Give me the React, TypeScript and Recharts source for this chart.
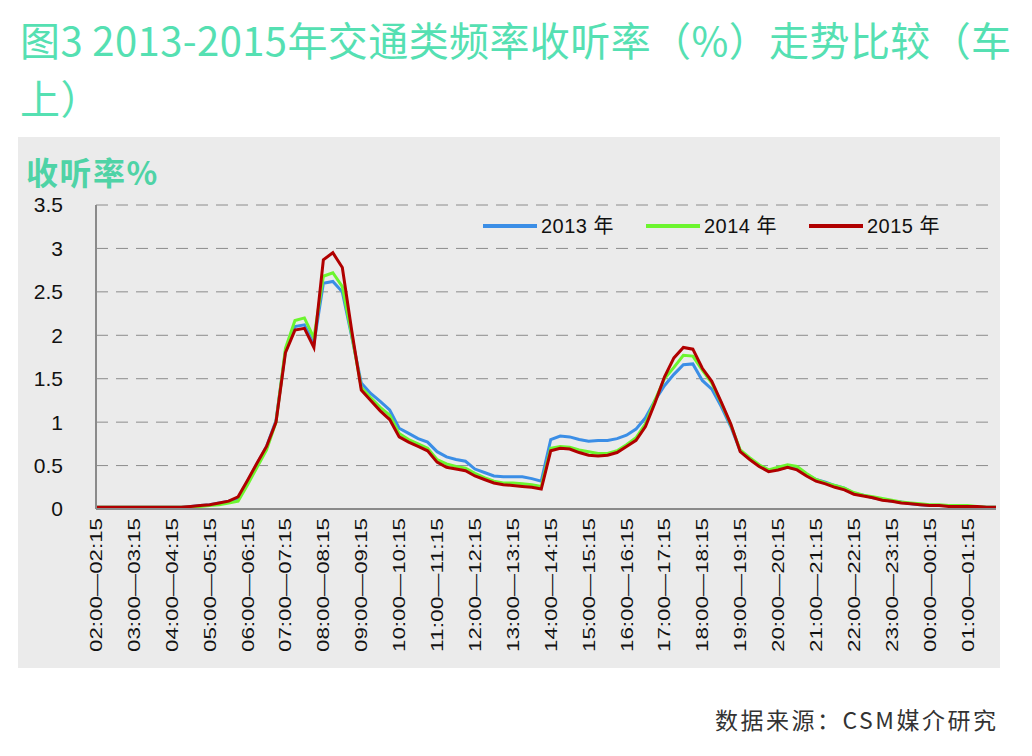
import React from 'react';
import { LineChart, Line, XAxis, YAxis, CartesianGrid } from 'recharts';

// 15-minute listening rates (%), slots start at 02:00 and run through 01:45
const rate2013 = [
  0.02, 0.02, 0.02, 0.02, 0.02, 0.02, 0.02, 0.02,
  0.02, 0.02, 0.03, 0.04, 0.05, 0.07, 0.09, 0.12,
  0.32, 0.52, 0.72, 1.02, 1.82, 2.1, 2.12, 1.9,
  2.6, 2.62, 2.5, 1.98, 1.45, 1.33, 1.24, 1.14,
  0.93, 0.87, 0.81, 0.77, 0.66, 0.6, 0.57, 0.55,
  0.46, 0.42, 0.38, 0.37, 0.37, 0.37, 0.35, 0.32,
  0.8, 0.84, 0.83, 0.8, 0.78, 0.79, 0.79, 0.81,
  0.85, 0.92, 1.05, 1.25, 1.42, 1.55, 1.66, 1.67,
  1.48, 1.38, 1.18, 0.95, 0.67, 0.58, 0.5, 0.44,
  0.46, 0.48, 0.46, 0.4, 0.34, 0.31, 0.27, 0.24,
  0.18, 0.16, 0.13, 0.11, 0.09, 0.08, 0.06, 0.05,
  0.04, 0.04, 0.04, 0.04, 0.03, 0.03, 0.02, 0.02,
];

const rate2014 = [
  0.02, 0.02, 0.02, 0.02, 0.02, 0.02, 0.02, 0.02,
  0.02, 0.02, 0.02, 0.03, 0.04, 0.05, 0.07, 0.09,
  0.28, 0.48, 0.68, 1.0, 1.85, 2.17, 2.2, 1.97,
  2.68, 2.72, 2.56, 2.0, 1.4, 1.28, 1.17, 1.08,
  0.87, 0.8, 0.75, 0.7, 0.57, 0.52, 0.49, 0.47,
  0.41, 0.36, 0.32, 0.3, 0.3, 0.29, 0.28, 0.26,
  0.7, 0.72, 0.71, 0.68, 0.66, 0.64, 0.64, 0.67,
  0.74, 0.82, 0.98, 1.25, 1.5, 1.63, 1.77, 1.76,
  1.6, 1.45, 1.22, 0.97, 0.68, 0.59, 0.51, 0.45,
  0.48, 0.51, 0.49, 0.41, 0.34, 0.3, 0.27, 0.24,
  0.19, 0.16, 0.14, 0.12, 0.1, 0.08, 0.07, 0.06,
  0.05, 0.05, 0.04, 0.04, 0.04, 0.03, 0.02, 0.02,
];

const rate2015 = [
  0.02, 0.02, 0.02, 0.02, 0.02, 0.02, 0.02, 0.02,
  0.02, 0.02, 0.03, 0.04, 0.05, 0.07, 0.09, 0.14,
  0.33, 0.53, 0.72, 1.0, 1.8, 2.06, 2.08, 1.86,
  2.87, 2.95, 2.78, 2.05, 1.37, 1.25, 1.13, 1.03,
  0.83, 0.77, 0.72, 0.67, 0.54, 0.48, 0.46, 0.44,
  0.38, 0.34, 0.3, 0.28, 0.27, 0.26, 0.25, 0.23,
  0.67, 0.7, 0.69, 0.65, 0.62, 0.61, 0.62, 0.65,
  0.72, 0.79, 0.95, 1.22, 1.52, 1.74, 1.86, 1.84,
  1.62, 1.47, 1.23, 0.98, 0.66, 0.57, 0.49, 0.43,
  0.45, 0.48, 0.45, 0.38, 0.32, 0.29, 0.25, 0.22,
  0.17, 0.15, 0.13, 0.1, 0.09, 0.07, 0.06, 0.05,
  0.04, 0.04, 0.03, 0.03, 0.03, 0.03, 0.02, 0.02,
];

const yTicks = [0, 0.5, 1, 1.5, 2, 2.5, 3, 3.5];
const START_HOUR = 2;

const SERIES = [
  { key: 'y2013', name: '2013', color: '#3b8ee6' },
  { key: 'y2014', name: '2014', color: '#6cf52e' },
  { key: 'y2015', name: '2015', color: '#b00000' },
];

const pad = (n: number) => String(n).padStart(2, '0');
const slotLabel = (i: number) => {
  const a = START_HOUR * 60 + i * 15;
  const b = a + 15;
  const fmt = (m: number) => `${pad(Math.floor(m / 60) % 24)}:${pad(m % 60)}`;
  return `${fmt(a)}—${fmt(b)}`;
};

const data = rate2013.map((v, i) => ({
  slot: slotLabel(i),
  y2013: v,
  y2014: rate2014[i],
  y2015: rate2015[i],
}));

const TEAL = '#55e0b2';
const CJK = '"Noto Sans CJK SC", "Liberation Sans", sans-serif';
const LATIN = '"Liberation Sans", Arial, sans-serif';

const SlotTick = (props: any) => {
  const { x, y, payload } = props;
  return (
    <text
      transform={`translate(${x + 6},${y + 1}) rotate(-90)`}
      textAnchor="end"
      fontSize={17}
      fontFamily={LATIN}
      fill="#111"
      textLength={134}
      lengthAdjust="spacingAndGlyphs"
    >
      {payload.value}
    </text>
  );
};

const LegendBox = () => (
  <div style={{ position: 'absolute', left: 465, top: 76, display: 'flex', fontFamily: LATIN, fontSize: 20, color: '#111', lineHeight: '24px' }}>
    {SERIES.map(s => (
      <div key={s.key} style={{ width: 163, display: 'flex', alignItems: 'center' }}>
        <span style={{ display: 'inline-block', width: 54, height: 4, background: s.color, marginRight: 4 }} />
        <span style={{ letterSpacing: 0.5 }}>
          {s.name} <span style={{ fontFamily: CJK }}>年</span>
        </span>
      </div>
    ))}
  </div>
);

export default function App() {
  return (
    <div style={{ position: 'fixed', left: 0, top: 0, width: 1032, height: 756, background: '#fff', overflow: 'hidden' }}>
      <div style={{ position: 'absolute', left: 20, top: 10, fontFamily: CJK, fontSize: 40, color: TEAL, whiteSpace: 'nowrap', lineHeight: '58px', letterSpacing: 0.4 }}>
        <div>图3 2013-2015年交通类频率收听率（%）走势比较（车</div>
        <div>上）</div>
      </div>

      <div style={{ position: 'absolute', left: 18, top: 137, width: 982, height: 531, background: '#ebebeb' }}>
        <div style={{ position: 'absolute', left: 8, top: 18, fontFamily: CJK, fontWeight: 700, fontSize: 32, lineHeight: '32px', color: '#4fd3a6', letterSpacing: 1.5 }}>
          收听率%
        </div>
        <LineChart width={982} height={531} data={data} margin={{ top: 68, right: 4, left: 0, bottom: 9 }}>
          <CartesianGrid vertical={false} stroke="#8c8c8c" strokeDasharray="12 8" />
          <XAxis
            dataKey="slot"
            interval={3}
            height={150}
            tick={<SlotTick />}
            tickLine={false}
            axisLine={{ stroke: '#8a8a8a', strokeWidth: 2 }}
          />
          <YAxis
            width={78}
            domain={[0, 3.5]}
            ticks={yTicks}
            tickLine={false}
            tickMargin={27}
            axisLine={{ stroke: '#8a8a8a', strokeWidth: 2 }}
            tick={{ fontSize: 21, fill: '#111', fontFamily: LATIN }}
          />
          {SERIES.map(s => (
            <Line
              key={s.key}
              type="linear"
              dataKey={s.key}
              name={s.name}
              stroke={s.color}
              strokeWidth={3}
              dot={false}
              isAnimationActive={false}
            />
          ))}
        </LineChart>
        <LegendBox />
      </div>

      <div style={{ position: 'absolute', left: 715, top: 702, fontFamily: CJK, fontSize: 23, color: '#333', letterSpacing: 2.5, whiteSpace: 'nowrap' }}>
        数据来源：CSM媒介研究
      </div>
    </div>
  );
}
